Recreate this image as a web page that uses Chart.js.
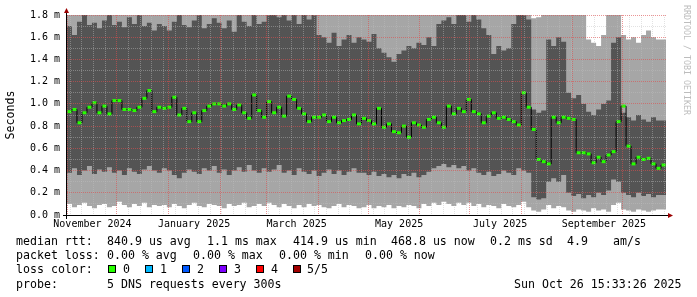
<!DOCTYPE html>
<html>
<head>
<meta charset="utf-8">
<script src="https://cdn.jsdelivr.net/npm/chart.js@4.4.1/dist/chart.umd.min.js"></script>
<style>
  html, body { margin: 0; padding: 0; background: #fff; }
  #wrap { position: relative; width: 697px; height: 297px; overflow: hidden; }
  #chart { position: absolute; left: 0; top: 0; }
  .t { position: absolute; font-family: 'DejaVu Sans Mono', monospace; font-size: 11.6px; line-height: 14px; white-space: pre; color: #000; }
  .sw { position: absolute; top: 265px; width: 6px; height: 6px; border: 1px solid #000; }
  #mark { position: absolute; left: 682px; top: 5px; writing-mode: vertical-rl; font-family: 'DejaVu Sans Mono', monospace; font-size: 8.3px; color: #bdbdbd; white-space: pre; }
</style>
</head>
<body>
<div id="wrap">
  <canvas id="chart" width="697" height="297"></canvas>
  <div id="mark">RRDTOOL / TOBI OETIKER</div>

  <div class="t" style="left:16px;top:234px">median rtt:</div>
  <div class="t" style="left:107px;top:234px">840.9 us avg</div>
  <div class="t" style="left:207px;top:234px">1.1 ms max</div>
  <div class="t" style="left:293px;top:234px">414.9 us min</div>
  <div class="t" style="left:391px;top:234px">468.8 us now</div>
  <div class="t" style="left:490px;top:234px">0.2 ms sd</div>
  <div class="t" style="left:567px;top:234px">4.9</div>
  <div class="t" style="left:613px;top:234px">am/s</div>

  <div class="t" style="left:16px;top:248px">packet loss:</div>
  <div class="t" style="left:107px;top:248px">0.00 % avg</div>
  <div class="t" style="left:193px;top:248px">0.00 % max</div>
  <div class="t" style="left:279px;top:248px">0.00 % min</div>
  <div class="t" style="left:365px;top:248px">0.00 % now</div>

  <div class="t" style="left:16px;top:262px">loss color:</div>
  <div class="sw" style="left:108px;background:#26ff00"></div>
  <div class="t" style="left:123px;top:262px">0</div>
  <div class="sw" style="left:145px;background:#00b8ff"></div>
  <div class="t" style="left:160px;top:262px">1</div>
  <div class="sw" style="left:182px;background:#0059ff"></div>
  <div class="t" style="left:197px;top:262px">2</div>
  <div class="sw" style="left:219px;background:#7e00ff"></div>
  <div class="t" style="left:234px;top:262px">3</div>
  <div class="sw" style="left:256px;background:#ff0000"></div>
  <div class="t" style="left:271px;top:262px">4</div>
  <div class="sw" style="left:293px;background:#a10000"></div>
  <div class="t" style="left:307px;top:262px">5/5</div>

  <div class="t" style="left:16px;top:277px">probe:</div>
  <div class="t" style="left:107px;top:277px">5 DNS requests every 300s</div>
  <div class="t" style="left:514px;top:277px">Sun Oct 26 15:33:26 2025</div>
</div>
<script>
// one sample every 3 days, starting 1 Nov 2024, 360 days shown
const stepDays = 3;
const spanDays = 360;

// median rtt (ms)
const medianRtt = [
  0.93,0.95,0.83,0.92,0.97,1.01,0.92,0.98,0.91,1.03,1.03,0.95,0.95,0.94,0.97,1.05,1.12,0.93,0.97,0.96,
  0.97,1.06,0.90,0.96,0.84,0.92,0.84,0.94,0.98,1.00,1.00,0.98,1.00,0.95,0.99,0.92,0.87,1.08,0.94,0.88,
  1.02,0.92,0.97,0.89,1.07,1.04,0.96,0.91,0.84,0.88,0.88,0.90,0.84,0.88,0.83,0.85,0.86,0.90,0.82,0.87,
  0.85,0.82,0.96,0.79,0.82,0.75,0.74,0.80,0.70,0.83,0.81,0.79,0.86,0.88,0.83,0.79,0.98,0.91,0.96,0.93,
  1.04,0.93,0.91,0.83,0.89,0.92,0.87,0.88,0.86,0.84,0.81,1.10,0.97,0.77,0.50,0.48,0.46,0.88,0.83,0.88,
  0.87,0.86,0.56,0.56,0.55,0.47,0.52,0.48,0.54,0.57,0.84,0.98,0.62,0.46,0.52,0.50,0.51,0.46,0.42,0.45
];

// smoke: fastest ping
const pingLow = [
  .08,.10,.07,.09,.11,.08,.06,.09,.10,.07,.08,.12,.09,.07,.10,.08,.11,.07,.09,.08,
  .09,.07,.10,.08,.06,.09,.11,.08,.07,.10,.09,.08,.06,.10,.08,.09,.11,.07,.08,.10,
  .08,.11,.09,.07,.10,.08,.06,.09,.07,.10,.08,.09,.07,.06,.08,.10,.07,.09,.08,.06,
  .07,.09,.06,.08,.07,.09,.06,.08,.07,.09,.08,.06,.10,.08,.11,.09,.12,.10,.08,.11,
  .09,.11,.08,.10,.07,.09,.08,.06,.10,.08,.07,.09,.12,.07,.04,.03,.05,.09,.06,.08,
  .07,.04,.03,.05,.04,.03,.06,.04,.05,.03,.09,.11,.05,.04,.03,.05,.04,.03,.04,.05
];

// smoke: second ping
const pingLowMid = [
  0.40,0.38,0.42,0.36,0.40,0.44,0.37,0.41,0.39,0.43,0.38,0.40,0.36,0.42,0.39,0.37,0.41,0.44,0.40,0.38,
  0.42,0.40,0.36,0.33,0.38,0.41,0.39,0.37,0.42,0.40,0.44,0.38,0.41,0.36,0.40,0.43,0.39,0.45,0.40,0.38,
  0.42,0.39,0.41,0.45,0.38,0.40,0.36,0.42,0.39,0.37,0.40,0.35,0.38,0.41,0.37,0.40,0.36,0.39,0.42,0.38,
  0.38,0.36,0.39,0.35,0.37,0.34,0.36,0.33,0.37,0.35,0.38,0.34,0.36,0.39,0.42,0.44,0.46,0.43,0.45,0.42,
  0.44,0.40,0.42,0.38,0.36,0.39,0.35,0.37,0.40,0.38,0.36,0.42,0.40,0.38,0.16,0.14,0.15,0.30,0.33,0.30,
  0.36,0.20,0.17,0.19,0.15,0.18,0.16,0.20,0.18,0.22,0.32,0.30,0.20,0.18,0.16,0.20,0.17,0.19,0.16,0.18
];

// smoke: fourth ping
const pingHighMid = [
  1.72,1.70,1.62,1.74,1.80,1.71,1.73,1.68,1.75,1.80,1.71,1.74,1.69,1.78,1.72,1.80,1.70,1.73,1.66,1.72,
  1.70,1.66,1.74,1.80,1.71,1.69,1.75,1.80,1.68,1.72,1.77,1.73,1.68,1.75,1.65,1.80,1.74,1.70,1.80,1.72,
  1.74,1.80,1.80,1.78,1.80,1.75,1.80,1.72,1.80,1.76,1.80,1.62,1.60,1.55,1.64,1.52,1.58,1.62,1.55,1.60,
  1.58,1.56,1.63,1.50,1.46,1.42,1.38,1.45,1.48,1.52,1.50,1.55,1.53,1.60,1.52,1.72,1.75,1.78,1.72,1.80,
  1.80,1.74,1.80,1.76,1.68,1.62,1.45,1.52,1.48,1.50,1.72,1.80,1.80,1.76,0.95,0.92,0.94,1.58,1.52,1.60,
  1.56,1.10,1.05,1.08,1.00,0.93,0.90,0.95,1.00,1.03,1.55,1.60,0.92,0.88,0.85,0.90,0.86,0.84,0.88,0.85
];

// smoke: slowest ping (clipped at 1.8 ms)
const pingHigh = [
  1.8,1.8,1.8,1.8,1.8,1.8,1.8,1.8,1.8,1.8,1.8,1.8,1.8,1.8,1.8,1.8,1.8,1.8,1.8,1.8,
  1.8,1.8,1.8,1.8,1.8,1.8,1.8,1.8,1.8,1.8,1.8,1.8,1.8,1.8,1.8,1.8,1.8,1.8,1.8,1.8,
  1.8,1.8,1.8,1.8,1.8,1.8,1.8,1.8,1.8,1.8,1.8,1.8,1.8,1.8,1.8,1.8,1.8,1.8,1.8,1.8,
  1.8,1.8,1.8,1.8,1.8,1.8,1.8,1.8,1.8,1.8,1.8,1.8,1.8,1.8,1.8,1.8,1.8,1.8,1.8,1.8,
  1.8,1.8,1.8,1.8,1.8,1.8,1.8,1.8,1.8,1.8,1.8,1.8,1.8,1.8,1.77,1.78,1.8,1.8,1.8,1.8,
  1.8,1.8,1.8,1.8,1.8,1.58,1.55,1.52,1.62,1.8,1.8,1.8,1.62,1.58,1.60,1.55,1.62,1.66,1.60,1.58
];

// x axis: day offsets from 1 Nov 2024
const monthStarts = [0, 30, 61, 92, 120, 151, 181, 212, 242, 273, 304, 334];
const monthLabels = ['November 2024', 'January 2025', 'March 2025', 'May 2025', 'July 2025', 'September 2025'];
const monthLabelDays = [15.3, 76.4, 138, 199.6, 260.3, 322.7];
const sundays = [];
for (let d = 2; d < spanDays; d += 7) {
    if (!monthStarts.includes(d)) sundays.push(d);
}

const monoFont = 'DejaVu Sans Mono';
const majorGrid = 'rgba(222,79,79,0.6)';
const minorGrid = 'rgba(191,191,191,0.45)';
const lightSmoke = '#a6a6a6';
const darkSmoke = '#545454';

function stepPoints(values) {
    const pts = values.map((v, i) => ({x: i * stepDays, y: v}));
    pts.push({x: spanDays, y: values[values.length - 1]});
    return pts;
}

function smokeBand(label, values, color) {
    return {
        label: label,
        data: stepPoints(values),
        stepped: 'after',
        fill: 'origin',
        backgroundColor: color,
        borderColor: 'rgba(0,0,0,0)',
        borderWidth: 0,
        pointRadius: 0
    };
}

const axisArrows = {
    id: 'axisArrows',
    afterDraw(chart) {
        const {ctx, chartArea: a} = chart;
        ctx.save();
        ctx.strokeStyle = '#000';
        ctx.lineWidth = 1;
        ctx.beginPath();
        ctx.moveTo(a.left - 4, a.bottom + 0.5);
        ctx.lineTo(a.right + 3, a.bottom + 0.5);
        ctx.moveTo(a.left - 0.5, a.bottom + 4);
        ctx.lineTo(a.left - 0.5, a.top - 2);
        ctx.stroke();
        ctx.fillStyle = '#9b0000';
        ctx.beginPath();
        ctx.moveTo(a.left - 3, a.top - 2);
        ctx.lineTo(a.left + 2, a.top - 2);
        ctx.lineTo(a.left - 0.5, a.top - 7);
        ctx.closePath();
        ctx.fill();
        ctx.beginPath();
        ctx.moveTo(a.right + 2, a.bottom - 2);
        ctx.lineTo(a.right + 2, a.bottom + 3);
        ctx.lineTo(a.right + 7, a.bottom + 0.5);
        ctx.closePath();
        ctx.fill();
        ctx.restore();
    }
};

new Chart(document.getElementById('chart'), {
    type: 'line',
    data: {
        datasets: [
            {
                label: 'median rtt',
                data: medianRtt.map((v, i) => ({x: i * stepDays + stepDays / 2, y: v})),
                stepped: 'middle',
                fill: false,
                borderColor: '#000',
                borderWidth: 1,
                pointStyle: 'line',
                pointRadius: 2,
                pointBorderWidth: 3,
                pointBorderColor: '#26ff00',
                pointBackgroundColor: '#26ff00'
            },
            smokeBand('ping 1', pingLow, '#ffffff'),
            smokeBand('ping 2', pingLowMid, lightSmoke),
            smokeBand('ping 4', pingHighMid, darkSmoke),
            smokeBand('ping 5', pingHigh, lightSmoke)
        ]
    },
    options: {
        responsive: false,
        animation: false,
        events: [],
        layout: {padding: {top: 15, right: 31, left: 0, bottom: 0}},
        plugins: {legend: {display: false}, tooltip: {enabled: false}},
        scales: {
            x: {
                type: 'linear',
                min: 0,
                max: spanDays,
                afterBuildTicks: (s) => {
                    s.ticks = [...monthStarts, ...sundays, ...monthLabelDays]
                        .sort((a, b) => a - b)
                        .map((v) => ({value: v}));
                },
                afterFit: (s) => { s.height = 82; },
                grid: {
                    z: 1,
                    drawTicks: false,
                    lineWidth: 1,
                    color: (c) => {
                        const v = c.tick ? c.tick.value : -1;
                        if (monthStarts.includes(v)) return majorGrid;
                        if (sundays.includes(v)) return minorGrid;
                        return 'rgba(0,0,0,0)';
                    }
                },
                border: {display: false, dash: [1, 1]},
                ticks: {
                    autoSkip: false,
                    maxRotation: 0,
                    padding: 3,
                    color: '#000',
                    font: {family: monoFont, size: 10},
                    callback: (v) => {
                        const k = monthLabelDays.indexOf(v);
                        return k >= 0 ? monthLabels[k] : '';
                    }
                }
            },
            y: {
                min: 0,
                max: 1.8,
                afterFit: (s) => { s.width = 67; },
                grid: {
                    z: 1,
                    drawTicks: false,
                    lineWidth: 1,
                    color: (c) => Math.round(c.tick.value * 10) % 2 === 0 ? majorGrid : minorGrid
                },
                border: {display: false, dash: [1, 1]},
                ticks: {
                    stepSize: 0.1,
                    autoSkip: false,
                    padding: 7,
                    color: '#000',
                    font: {family: monoFont, size: 10},
                    callback: (v) => Math.round(v * 10) % 2 === 0 ? v.toFixed(1) + ' m' : ''
                },
                title: {
                    display: true,
                    text: 'Seconds',
                    color: '#000',
                    font: {family: monoFont, size: 11.6},
                    padding: {top: 4, bottom: 0}
                }
            }
        }
    },
    plugins: [axisArrows]
});
</script>
</body>
</html>
